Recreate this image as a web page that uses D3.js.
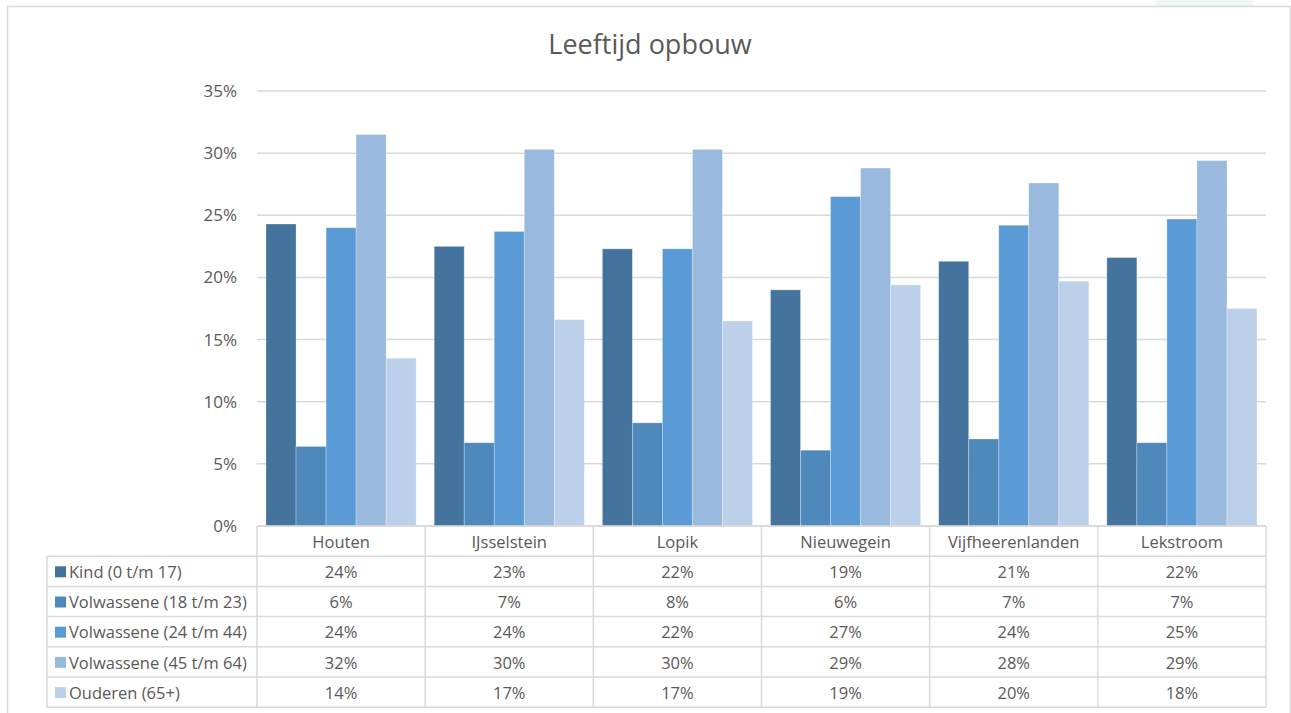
<!DOCTYPE html>
<html>
<head>
<meta charset="utf-8">
<script src="https://cdn.jsdelivr.net/npm/d3@7"></script>
<style>
  body { margin: 0; background: #fff; }
  svg { display: block; font-family: "Segoe UI", "Open Sans", sans-serif; }
</style>
</head>
<body>
<svg width="1291" height="713"></svg>
<script>
const gemeenten = ["Houten", "IJsselstein", "Lopik", "Nieuwegein", "Vijfheerenlanden", "Lekstroom"];
const groepen = ["Kind (0 t/m 17)", "Volwassene (18 t/m 23)", "Volwassene (24 t/m 44)", "Volwassene (45 t/m 64)", "Ouderen (65+)"];
const kleuren = ["#44739d", "#4f88bb", "#5b9bd5", "#9ab9de", "#bdd0e9"];
// percentages per groep, per gemeente (zelfde volgorde als gemeenten)
const kind      = [24.3, 22.5, 22.3, 19.0, 21.3, 21.6];
const vol18     = [6.4, 6.7, 8.3, 6.1, 7.0, 6.7];
const vol24     = [24.0, 23.7, 22.3, 26.5, 24.2, 24.7];
const vol45     = [31.5, 30.3, 30.3, 28.8, 27.6, 29.4];
const ouderen   = [13.5, 16.6, 16.5, 19.4, 19.7, 17.5];
const yTicks = [0, 5, 10, 15, 20, 25, 30, 35];

const reeksen = [kind, vol18, vol24, vol45, ouderen];

const svg = d3.select("svg");
const grid = "#d9d9d9", tekst = "#595959";

// kader
svg.append("rect").attr("x", 1155).attr("y", 0).attr("width", 98).attr("height", 6).attr("fill", "#eef7f1");
svg.append("path")
   .attr("d", "M7.5,713 V6.5 H1290.5 V713")
   .attr("fill", "none").attr("stroke", grid).attr("stroke-width", 1.5);

const pLeft = 257, pRight = 1266, pTop = 91, pBottom = 526;

const x = d3.scaleBand().domain(gemeenten).range([pLeft, pRight]);
const x1 = d3.scaleBand().domain(d3.range(groepen.length)).range([0, x.bandwidth()]).paddingOuter(0.3);
const y = d3.scaleLinear().domain([0, 35]).range([pBottom, pTop]);

// titel
svg.append("text")
   .attr("x", 650).attr("y", 54)
   .attr("text-anchor", "middle")
   .attr("font-size", 27).attr("fill", tekst)
   .text("Leeftijd opbouw");

// rasterlijnen + labels
svg.append("g").selectAll("line").data(yTicks).join("line")
   .attr("x1", pLeft).attr("x2", pRight)
   .attr("y1", d => y(d)).attr("y2", d => y(d))
   .attr("stroke", grid).attr("stroke-width", 1.5);

svg.append("g").selectAll("text").data(yTicks).join("text")
   .attr("x", 237).attr("y", d => y(d))
   .attr("dy", "0.35em")
   .attr("text-anchor", "end")
   .attr("font-size", 17).attr("fill", tekst)
   .text(d => d + "%");

// staven
const bars = [];
reeksen.forEach((r, i) => r.forEach((v, j) => bars.push({ g: gemeenten[j], i, v })));

svg.append("g").selectAll("rect").data(bars).join("rect")
   .attr("x", d => x(d.g) + x1(d.i))
   .attr("y", d => y(d.v))
   .attr("width", x1.bandwidth())
   .attr("height", d => y(0) - y(d.v))
   .attr("fill", d => kleuren[d.i])
   .attr("stroke", "#fff").attr("stroke-opacity", 0.35).attr("stroke-width", 0.8);

// datatabel
const rowH = 30.2;
const tabel = svg.append("g").attr("fill", "none").attr("stroke", grid).attr("stroke-width", 1.5);
const tabelBottom = pBottom + rowH * 6;
const legLeft = 47;

// horizontale lijnen
tabel.append("line").attr("x1", pLeft).attr("x2", pRight).attr("y1", pBottom).attr("y2", pBottom);
d3.range(1, 7).forEach(k => {
  tabel.append("line").attr("x1", legLeft).attr("x2", pRight)
       .attr("y1", pBottom + rowH * k).attr("y2", pBottom + rowH * k);
});
// verticale lijnen
tabel.append("line").attr("x1", legLeft).attr("x2", legLeft).attr("y1", pBottom + rowH).attr("y2", tabelBottom);
gemeenten.forEach(g => {
  tabel.append("line").attr("x1", x(g)).attr("x2", x(g)).attr("y1", pBottom).attr("y2", tabelBottom);
});
tabel.append("line").attr("x1", pRight).attr("x2", pRight).attr("y1", pBottom).attr("y2", tabelBottom);

// kolomkoppen
svg.append("g").selectAll("text").data(gemeenten).join("text")
   .attr("x", d => x(d) + x.bandwidth() / 2)
   .attr("y", pBottom + rowH / 2 + 1)
   .attr("dy", "0.35em")
   .attr("text-anchor", "middle")
   .attr("font-size", 16.5).attr("fill", tekst)
   .text(d => d);

// legenda-rijen
const rijen = svg.append("g").selectAll("g").data(groepen).join("g")
   .attr("transform", (d, i) => `translate(0,${pBottom + rowH * (i + 1)})`);

rijen.append("rect")
   .attr("x", 55).attr("y", rowH / 2 - 5)
   .attr("width", 11).attr("height", 11)
   .attr("fill", (d, i) => kleuren[i]);

rijen.append("text")
   .attr("x", 69).attr("y", rowH / 2 + 1)
   .attr("dy", "0.35em")
   .attr("font-size", 16.5).attr("fill", tekst)
   .text(d => d);

rijen.each(function(d, i) {
  d3.select(this).selectAll(".waarde").data(reeksen[i]).join("text")
    .attr("class", "waarde")
    .attr("x", (v, j) => x(gemeenten[j]) + x.bandwidth() / 2)
    .attr("y", rowH / 2 + 1)
    .attr("dy", "0.35em")
    .attr("text-anchor", "middle")
    .attr("font-size", 16.5).attr("fill", tekst)
    .text(v => Math.round(v) + "%");
});
</script>
</body>
</html>
